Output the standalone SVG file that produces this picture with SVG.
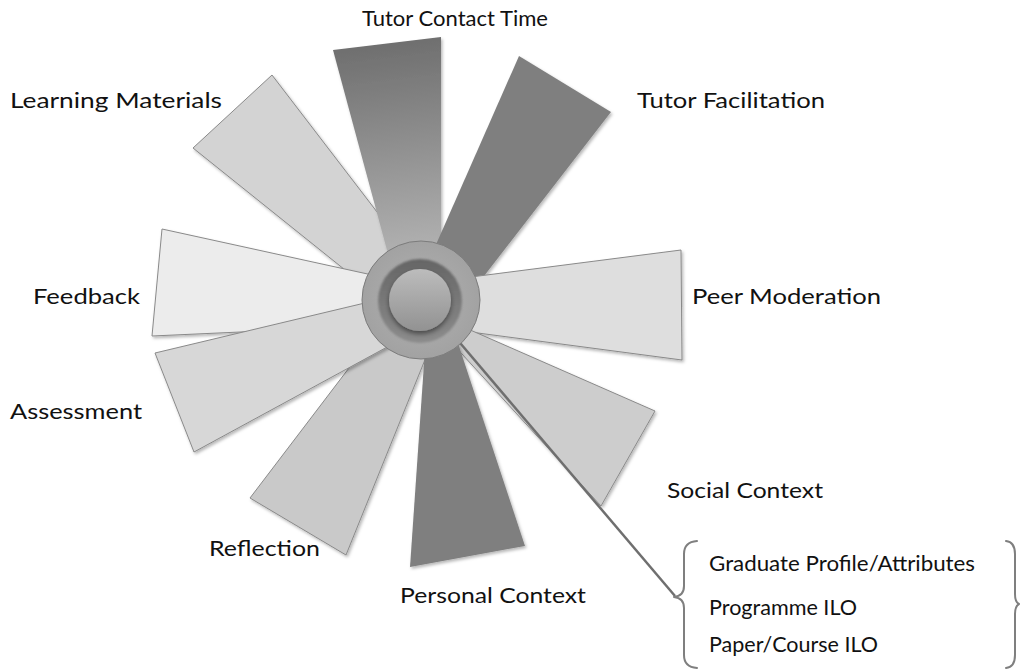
<svg xmlns="http://www.w3.org/2000/svg" width="1020" height="670" viewBox="0 0 1020 670">
<defs>
<style>
.lbl{font-family:Lato,"Open Sans","Liberation Sans",sans-serif;font-size:22px;fill:#111}
.blade{stroke:#8a8a8a;stroke-width:1;stroke-linejoin:round;filter:url(#sh)}
.dark{fill:#7f7f7f;stroke:none;filter:url(#sh)}
.brace{fill:none;stroke:#7f7f7f;stroke-width:2;stroke-linecap:round;stroke-linejoin:round}
</style>
<filter id="sh" x="-20%" y="-20%" width="140%" height="140%">
<feDropShadow dx="1.5" dy="2" stdDeviation="1.5" flood-color="#000" flood-opacity="0.28"/>
</filter>
<filter id="btnsh" x="-30%" y="-30%" width="160%" height="160%">
<feDropShadow dx="0" dy="3" stdDeviation="2.5" flood-color="#000" flood-opacity="0.45"/>
</filter>
<filter id="soft" x="-10%" y="-10%" width="120%" height="120%">
<feGaussianBlur stdDeviation="1.2"/>
</filter>
<linearGradient id="gTCT" gradientUnits="userSpaceOnUse" x1="387" y1="40" x2="420" y2="300">
<stop offset="0" stop-color="#6e6e6e"/>
<stop offset="1" stop-color="#c0c0c0"/>
</linearGradient>
<radialGradient id="gHub" cx="0.5" cy="0.5" r="0.5">
<stop offset="0" stop-color="#b2b2b2"/>
<stop offset="1" stop-color="#a2a2a2"/>
</radialGradient>
<linearGradient id="gRing" x1="0" y1="0" x2="0" y2="1">
<stop offset="0" stop-color="#656565"/>
<stop offset="1" stop-color="#8c8c8c"/>
</linearGradient>
<linearGradient id="gBtn" x1="0" y1="0" x2="0" y2="1">
<stop offset="0" stop-color="#bcbcbc"/>
<stop offset="1" stop-color="#929292"/>
</linearGradient>
</defs>
<rect width="1020" height="670" fill="#fff"/>

<g id="learning-materials"><polygon class="blade" fill="#d3d3d3" points="272,75 193,148 380,298 410,255"/></g>
<g id="tutor-contact-time"><polygon fill="url(#gTCT)" filter="url(#sh)" points="333,50 441,37 441,298 401,302"/></g>
<g id="tutor-facilitation"><polygon class="dark" points="519,56 611,112 464,302 416,290"/></g>
<g id="peer-moderation"><polygon class="blade" fill="#dedede" points="681,250 682,360 440,328 440,281"/></g>
<g id="feedback"><polygon class="blade" fill="#ececec" points="162,229 152,336 395,325 395,280"/></g>
<g id="reflection"><polygon class="blade" fill="#c9c9c9" points="250,498 346,555 435,335 384,322"/></g>
<g id="assessment"><polygon class="blade" fill="#d7d7d7" points="155,353 194,452 400,340 390,297"/></g>
<g id="social-context"><polygon class="blade" fill="#cdcdcd" points="655,411 601,506 440,330 452,322"/></g>
<g id="personal-context"><polygon class="dark" points="410,567 525,546 452,325 427,320"/></g>

<g id="connectors">
<line x1="455" y1="337" x2="675" y2="596" stroke="#6f6f6f" stroke-width="2.5"/>
</g>

<g id="hub">
<circle cx="421" cy="300" r="59" fill="url(#gHub)" stroke="#7c7c7c" stroke-width="1"/>
<circle cx="420" cy="301" r="42" fill="url(#gRing)" filter="url(#soft)"/>
<circle cx="420" cy="300" r="31" fill="url(#gBtn)" filter="url(#btnsh)"/>
</g>

<g id="bracket">
<path class="brace" d="M697,541 Q684,542 684,554 L684,586 Q684,596 674,597 Q684,598 684,608 L684,655 Q684,667 697,668"/>
<path class="brace" d="M1006,541 Q1015,542 1015,554 L1015,594 Q1015,602 1019,604 Q1015,606 1015,614 L1015,655 Q1015,667 1006,668"/>
</g>

<g id="labels">
<text class="lbl" x="362" y="26" textLength="186" lengthAdjust="spacingAndGlyphs">Tutor Contact Time</text>
<text class="lbl" x="10" y="108" textLength="212" lengthAdjust="spacingAndGlyphs">Learning Materials</text>
<text class="lbl" x="637" y="108" textLength="188" lengthAdjust="spacingAndGlyphs">Tutor Facilitation</text>
<text class="lbl" x="33" y="304" textLength="107" lengthAdjust="spacingAndGlyphs">Feedback</text>
<text class="lbl" x="692" y="304" textLength="189" lengthAdjust="spacingAndGlyphs">Peer Moderation</text>
<text class="lbl" x="10" y="419" textLength="132" lengthAdjust="spacingAndGlyphs">Assessment</text>
<text class="lbl" x="667" y="498" textLength="156" lengthAdjust="spacingAndGlyphs">Social Context</text>
<text class="lbl" x="209" y="556" textLength="111" lengthAdjust="spacingAndGlyphs">Reflection</text>
<text class="lbl" x="400" y="603" textLength="186" lengthAdjust="spacingAndGlyphs">Personal Context</text>
<text class="lbl" x="709" y="571" textLength="266" lengthAdjust="spacingAndGlyphs">Graduate Profile/Attributes</text>
<text class="lbl" x="709" y="615" textLength="148" lengthAdjust="spacingAndGlyphs">Programme ILO</text>
<text class="lbl" x="709" y="652" textLength="169" lengthAdjust="spacingAndGlyphs">Paper/Course ILO</text>
</g>
</svg>
